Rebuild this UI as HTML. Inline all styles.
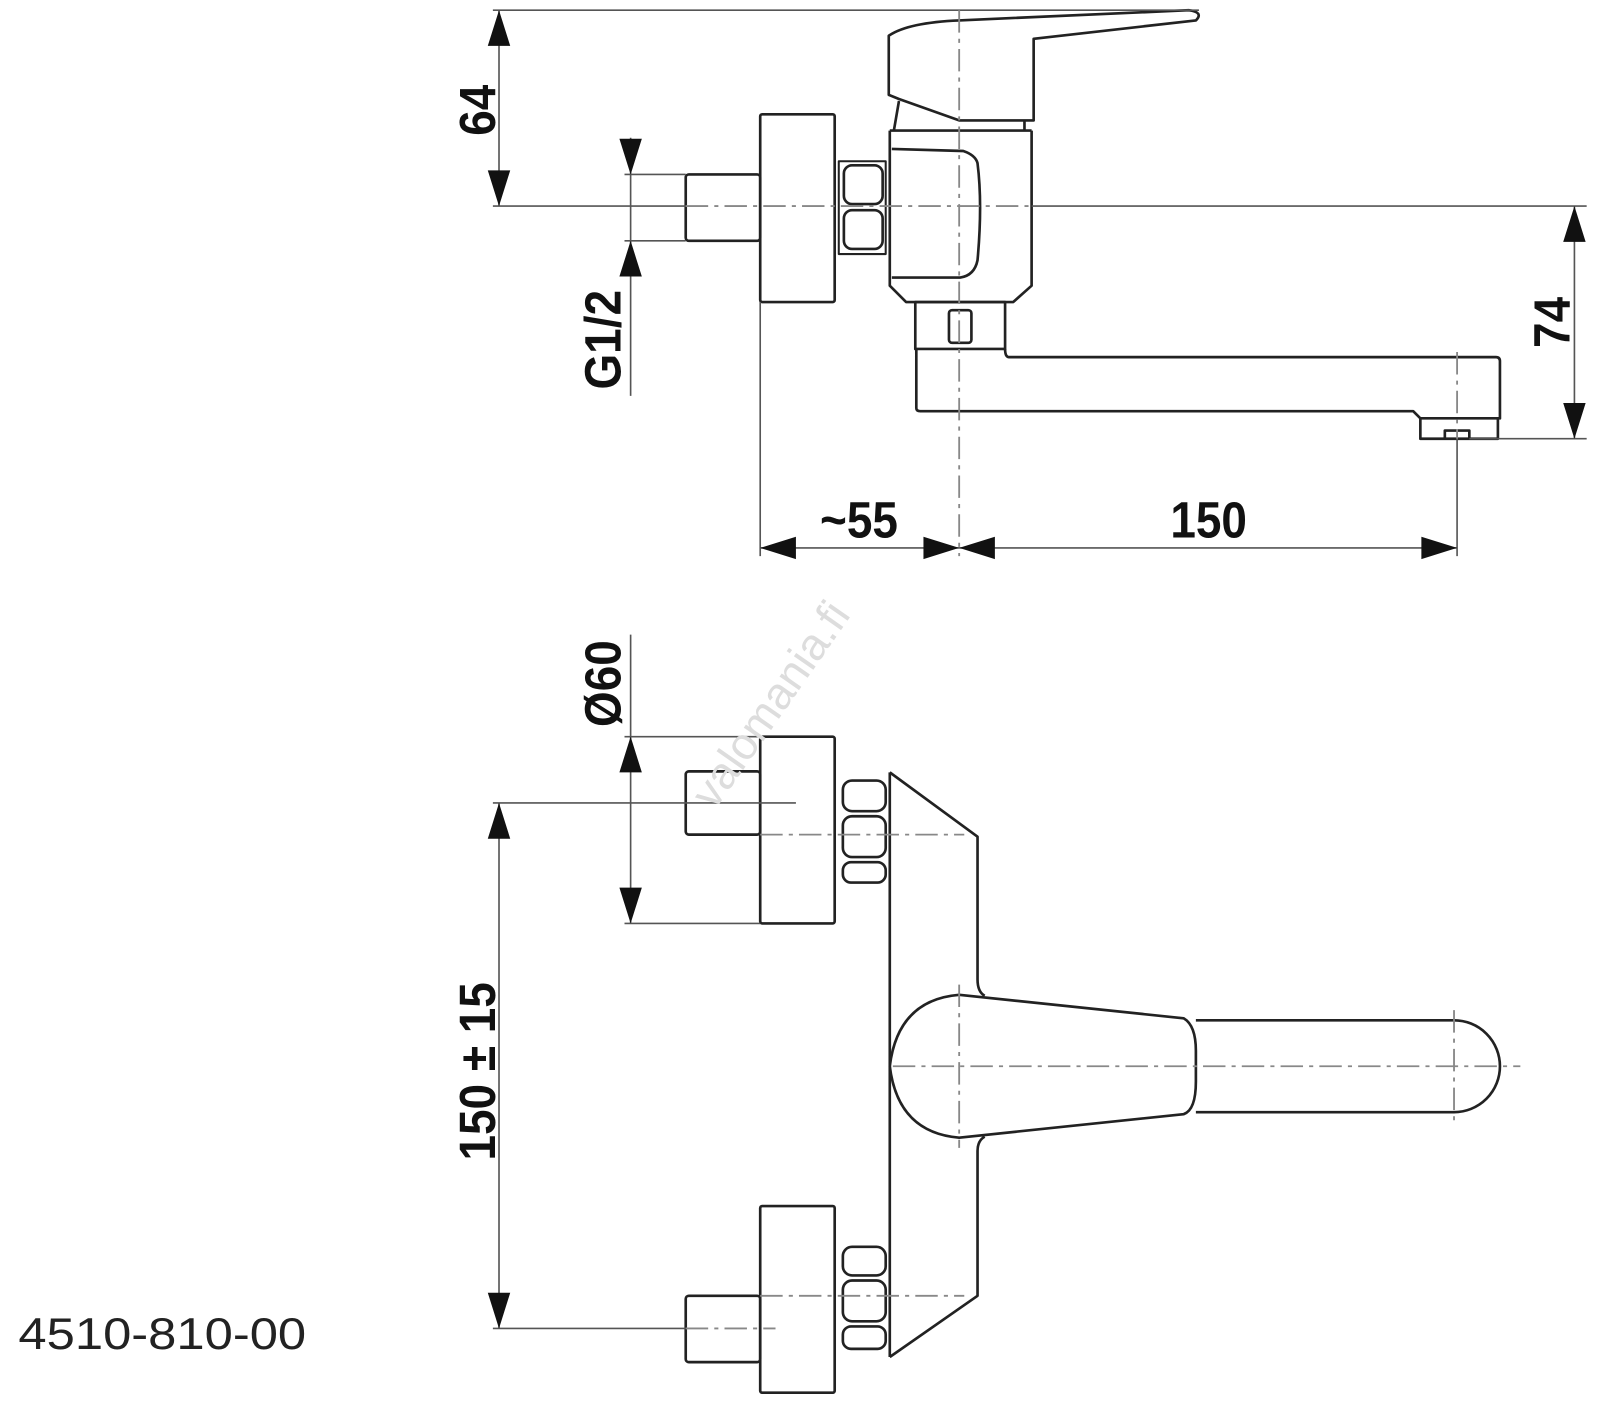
<!DOCTYPE html>
<html><head><meta charset="utf-8"><style>
html,body{margin:0;padding:0;background:#fff;}
svg{display:block}
.t{font-family:"Liberation Sans",Arial,sans-serif;font-weight:bold;font-size:50px;fill:#111}
</style></head><body>
<svg width="1600" height="1406" viewBox="0 0 1568 1378" xmlns="http://www.w3.org/2000/svg">
<g fill="none" stroke="#222" stroke-width="2.6" stroke-linejoin="round">
<path d="M871,35 Q890,22 940,20 L1165,10 Q1180,12 1172,20 L1013,38 L1013,118 L940,118 L881,97 L871,93 Z"/>
<path d="M881,99 L876,128 M1004,118 L1004,128"/>
<path d="M872,128 L1011,128 M872,128 L872,280 L888,296 L993,296 L1011,280 L1011,128"/>
<path d="M874,146 L944,148 Q956,152 958,160 Q963,200 958,255 Q955,270 941,272 L874,272"/>
<rect x="897" y="296" width="88" height="46"/>
<rect x="930" y="304" width="22" height="32" rx="3"/>
<path d="M898,342 L898,400 Q898,403 902,403 L1385,403 L1392,410 L1470,410 L1470,354 Q1470,350 1466,350 L989,350 Q985,350 985,342"/>
<path d="M1392,410 L1392,430 L1468,430 L1468,410 M1416,430 L1416,422 L1440,422 L1440,430"/>
<rect x="745" y="112" width="73" height="184" rx="2"/>
<rect x="672" y="171" width="73" height="65" rx="3"/>
<rect x="822" y="158" width="46" height="91" stroke-width="2"/>
<rect x="827" y="162" width="38" height="38" rx="8"/>
<rect x="827" y="206" width="38" height="38" rx="8"/>
<rect x="745" y="722" width="73" height="183" rx="2"/>
<rect x="672" y="756" width="73" height="62" rx="3"/>
<rect x="826" y="765" width="42" height="30" rx="9"/>
<rect x="826" y="800" width="42" height="40" rx="9"/>
<rect x="826" y="845" width="42" height="20" rx="8"/>
<rect x="745" y="1182" width="73" height="183" rx="2"/>
<rect x="672" y="1270" width="73" height="65" rx="3"/>
<rect x="826" y="1222" width="42" height="28" rx="9"/>
<rect x="826" y="1255" width="42" height="40" rx="9"/>
<rect x="826" y="1300" width="42" height="22" rx="8"/>
<path d="M872,757 L872,1330 M872,757 L958,820 L958,960 Q958,972 965,976 M965,1114 Q958,1118 958,1128 L958,1270 L872,1330"/>
<path d="M940,975 L1160,998 Q1172,1005 1172,1030 L1172,1060 Q1172,1088 1160,1092 L940,1115 Q880,1110 872,1045 Q880,980 940,975 Z"/>
<path d="M1172,1000 L1425,1000 A45,45 0 0 1 1425,1090 L1172,1090"/>
</g>
<g fill="none" stroke="#555" stroke-width="1.6">
<path d="M483,10 L1175,10 M483,202 L672,202 M1011,202 L1555,202 M489,10 L489,202 M612,171 L672,171 M612,236 L672,236 M618,135 L618,388 M745,296 L745,545 M1440,430 L1555,430 M1543,202 L1543,430 M745,537 L1428,537 M1428,430 L1428,545"/>
<path d="M612,722 L745,722 M612,905 L745,905 M618,622 L618,905 M483,787 L780,787 M483,1302 L672,1302 M489,787 L489,1302"/>
</g>
<g fill="none" stroke="#888" stroke-width="1.8" stroke-dasharray="22,6,4,6">
<path d="M672,202 L1011,202 M940,10 L940,545 M1428,345 L1428,430"/>
<path d="M875,1045 L1490,1045 M940,965 L940,1125 M1425,990 L1425,1100 M745,818 L945,818 M745,1270 L945,1270 M672,1302 L760,1302"/>
</g>
<g fill="#111">
<path d="M489,10 L478,45 L500,45 Z M489,202 L478,167 L500,167 Z"/>
<path d="M618,171 L607,136 L629,136 Z M618,236 L607,271 L629,271 Z"/>
<path d="M1543,202 L1532,237 L1554,237 Z M1543,430 L1532,395 L1554,395 Z"/>
<path d="M745,537 L780,526 L780,548 Z M940,537 L905,526 L905,548 Z M940,537 L975,526 L975,548 Z M1428,537 L1393,526 L1393,548 Z"/>
<path d="M618,722 L607,757 L629,757 Z M618,905 L607,870 L629,870 Z"/>
<path d="M489,787 L478,822 L500,822 Z M489,1302 L478,1267 L500,1267 Z"/>
</g>
<text class="t" transform="translate(485,108) rotate(-90) scale(0.9,1)" text-anchor="middle">64</text>
<text class="t" transform="translate(608,333) rotate(-90) scale(0.9,1)" text-anchor="middle">G1/2</text>
<text class="t" transform="translate(1538,316) rotate(-90) scale(0.9,1)" text-anchor="middle">74</text>
<text class="t" x="842" y="527" text-anchor="middle" transform="translate(84,0) scale(0.9,1)">~55</text>
<text class="t" x="1185" y="527" text-anchor="middle" transform="translate(118,0) scale(0.9,1)">150</text>
<text class="t" transform="translate(608,670) rotate(-90) scale(0.9,1)" text-anchor="middle">Ø60</text>
<text class="t" transform="translate(485,1050) rotate(-90) scale(0.9,1)" text-anchor="middle">150 ± 15</text>
<text x="18" y="1322" textLength="282" lengthAdjust="spacingAndGlyphs" style="font-family:'Liberation Sans',Arial,sans-serif;font-size:44px;fill:#222">4510-810-00</text>
<text transform="translate(700,795) rotate(-55)" style="font-family:'Liberation Sans',Arial,sans-serif;font-size:44px;fill:#ddd">valomania.fi</text>
</svg>
</body></html>
